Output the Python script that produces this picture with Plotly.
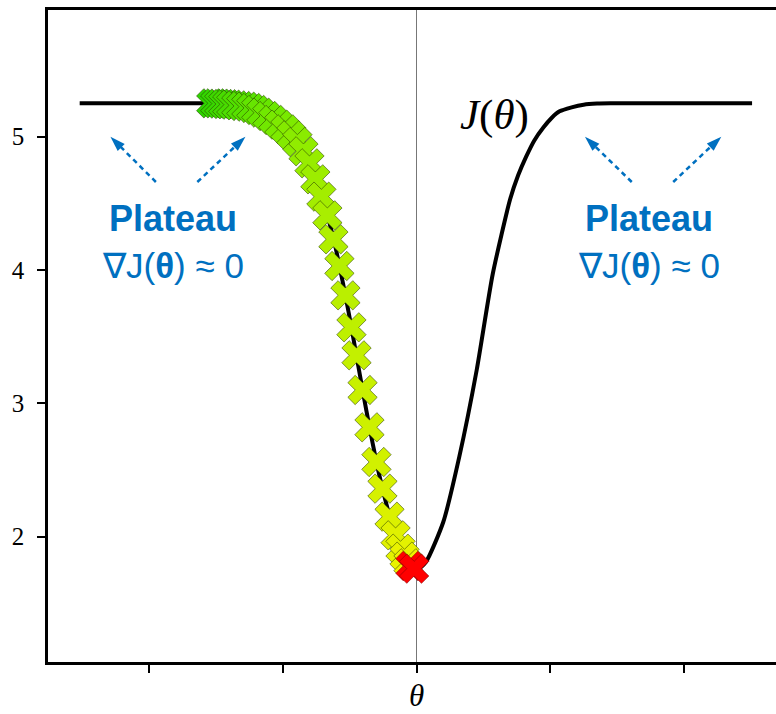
import plotly.graph_objects as go

# Cost curve J(theta), sampled along the drawn profile
theta_curve = [-2.52, -1.60, -1.40, -1.25, -1.10, -0.95, -0.85, -0.78, -0.70, -0.62,
               -0.55, -0.50, -0.45, -0.40, -0.35, -0.30, -0.25, -0.20, -0.15, -0.10,
               -0.05, 0.00, 0.07, 0.20, 0.32, 0.45, 0.57, 0.70, 0.76, 0.82,
               0.88, 0.95, 1.01, 1.07, 1.16, 1.25, 1.35, 1.45, 2.51]
J_curve = [5.25, 5.25, 5.245, 5.22, 5.15, 5.03, 4.90, 4.74, 4.52, 4.23,
           3.90, 3.64, 3.36, 3.08, 2.81, 2.56, 2.34, 2.15, 1.99, 1.87,
           1.79, 1.75, 1.81, 2.11, 2.60, 3.25, 3.97, 4.53, 4.71, 4.85,
           4.97, 5.07, 5.14, 5.19, 5.22, 5.24, 5.248, 5.25, 5.25]

# Gradient-descent iterates (theta, J)
theta_steps = [-1.536, -1.506, -1.476, -1.446, -1.416, -1.386, -1.348, -1.311, -1.273, -1.236,
               -1.199, -1.161, -1.116, -1.071, -1.026, -0.981, -0.936, -0.891, -0.846, -0.801,
               -0.757, -0.712, -0.667, -0.622, -0.577, -0.532, -0.487, -0.449, -0.404, -0.352,
               -0.300, -0.255, -0.202, -0.157, -0.120, -0.090, -0.060]
J_steps = [5.25, 5.25, 5.248, 5.245, 5.243, 5.24, 5.235, 5.23, 5.225, 5.215,
           5.20, 5.18, 5.155, 5.125, 5.09, 5.055, 5.01, 4.96, 4.89, 4.80,
           4.68, 4.55, 4.41, 4.23, 4.03, 3.81, 3.57, 3.36, 3.10, 2.82,
           2.56, 2.36, 2.15, 2.01, 1.91, 1.85, 1.80]

# Final iterates near the minimum
theta_final = [-0.045, -0.018]
J_final = [1.78, 1.76]

# Axis ticks
x_ticks = [-2, -1, 0, 1, 2]
y_ticks = [2, 3, 4, 5]

BLUE = "#0070C0"
SERIF = "Liberation Serif"
SANS = "Liberation Sans"

fig = go.Figure()

fig.add_trace(go.Scatter(
    x=theta_curve, y=J_curve, mode="lines",
    line=dict(color="black", width=4, shape="spline", smoothing=0.6),
    hoverinfo="skip", showlegend=False,
))

fig.add_trace(go.Scatter(
    x=theta_steps, y=J_steps, mode="markers",
    marker=dict(
        symbol="x", size=26,
        color=list(range(len(theta_steps))),
        colorscale=[[0.0, "#2ed400"], [0.35, "#6fe800"], [0.65, "#b2ef00"], [1.0, "#eef200"]],
        line=dict(color="rgba(40,60,0,0.55)", width=1),
    ),
    showlegend=False,
))

fig.add_trace(go.Scatter(
    x=theta_final, y=J_final, mode="markers",
    marker=dict(symbol="x", size=26, color="#ff0000",
                line=dict(color="rgba(140,0,0,0.6)", width=1)),
    showlegend=False,
))

# Dotted arrows pointing at the two plateaus
arrows = [
    ((-1.95, 4.66), (-2.29, 5.0)),
    ((-1.64, 4.66), (-1.28, 5.0)),
    ((1.61, 4.66), (1.26, 5.0)),
    ((1.92, 4.66), (2.28, 5.0)),
]
for (x0, y0), (x1, y1) in arrows:
    fig.add_trace(go.Scatter(
        x=[x0, x1], y=[y0, y1], mode="lines+markers",
        line=dict(color=BLUE, width=2.5, dash="5px,4px"),
        marker=dict(symbol="arrow", size=16, angleref="previous", color=BLUE),
        hoverinfo="skip", showlegend=False,
    ))

annotations = []
for xc in (-1.82, 1.74):
    annotations.append(dict(
        x=xc, y=4.39, xref="x", yref="y", text="<b>Plateau</b>", showarrow=False,
        font=dict(family=SANS, size=36, color=BLUE), xanchor="center", yanchor="middle",
    ))
    annotations.append(dict(
        x=xc, y=4.035, xref="x", yref="y", text="∇J(<b>θ</b>) ≈ 0", showarrow=False,
        font=dict(family=SANS, size=35, color=BLUE), xanchor="center", yanchor="middle",
    ))

annotations.append(dict(
    x=0.58, y=5.16, xref="x", yref="y", text="<i>J</i>(<i>θ</i>)", showarrow=False,
    font=dict(family=SERIF, size=43, color="black"), xanchor="center", yanchor="middle",
))
annotations.append(dict(
    x=0, y=0, xref="x", yref="paper", text="<i>θ</i>", showarrow=False,
    font=dict(family=SERIF, size=31, color="black"), xanchor="center", yanchor="top",
    yshift=-14,
))

fig.update_layout(
    width=776, height=714,
    margin=dict(l=48, r=0, t=10, b=52),
    plot_bgcolor="white", paper_bgcolor="white",
    annotations=annotations,
    xaxis=dict(
        range=[-2.757, 2.689], tickvals=x_ticks, ticktext=[""] * len(x_ticks),
        ticks="outside", ticklen=8, tickwidth=2, tickcolor="black",
        showline=True, linewidth=2.5, linecolor="black", mirror=True,
        showgrid=False, zeroline=True, zerolinecolor="#777777", zerolinewidth=1,
    ),
    yaxis=dict(
        range=[1.06, 5.95], tickvals=y_ticks,
        ticks="outside", ticklen=8, tickwidth=2, tickcolor="black",
        tickfont=dict(family=SERIF, size=25, color="black"), ticklabelstandoff=8,
        showline=True, linewidth=2.5, linecolor="black", mirror=False,
        showgrid=False, zeroline=False,
    ),
)

fig.write_html("out.html")
